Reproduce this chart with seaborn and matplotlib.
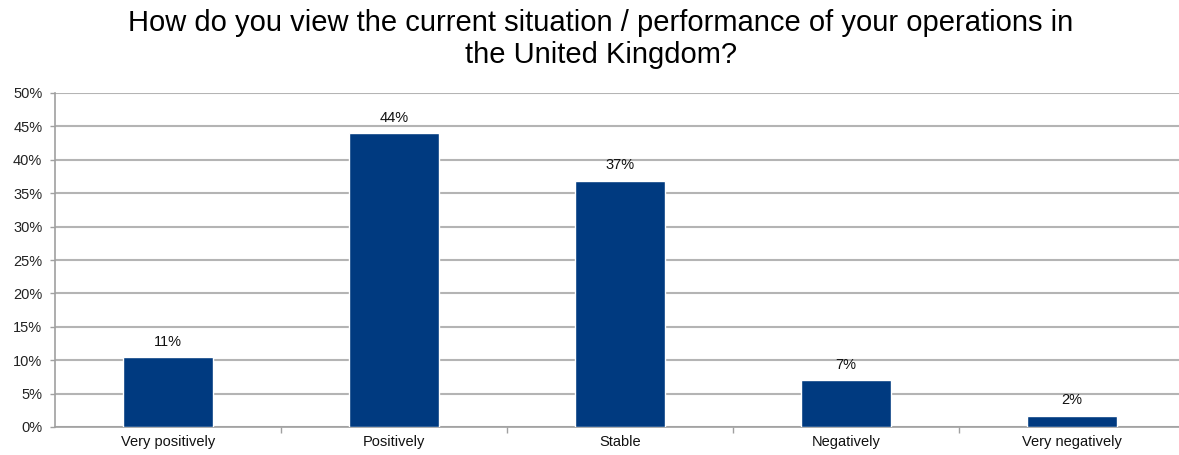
import matplotlib
matplotlib.use("Agg")
import matplotlib.pyplot as plt
import seaborn as sns
import pandas as pd
import numpy as np
from matplotlib.ticker import FixedLocator

categories = ["Very positively", "Positively", "Stable", "Negatively", "Very negatively"]
values = [10.5, 44.0, 36.9, 7.0, 1.7]
value_labels = ["11%", "44%", "37%", "7%", "2%"]
yticks = [0, 5, 10, 15, 20, 25, 30, 35, 40, 45, 50]
ytick_labels = ["0%", "5%", "10%", "15%", "20%", "25%", "30%", "35%", "40%", "45%", "50%"]
title = "How do you view the current situation / performance of your operations in\nthe United Kingdom?"

sns.set_theme(style="white")
plt.rcParams['font.family'] = ['Liberation Sans', 'DejaVu Sans']

W, H = 1179, 455
fig = plt.figure(figsize=(W / 100, H / 100), dpi=100)
ax = fig.add_axes([55 / W, 28 / H, 1130 / W, 334 / H])

df = pd.DataFrame({"category": categories, "value": values})
sns.barplot(data=df, x="category", y="value", color="#003a80", width=0.4,
            saturation=1, ax=ax, zorder=3)

ax.set_ylim(0, 50)
ax.set_xlim(-0.5, len(categories) - 0.5)
ax.set_yticks(yticks)
ax.set_yticklabels(ytick_labels, fontsize=10.5, color="#222222")
ax.yaxis.grid(True, color="#b4b4b4", linewidth=1.5, zorder=0)
ax.set_axisbelow(True)
ax.set_xlabel("")
ax.set_ylabel("")
ax.tick_params(axis="x", labelsize=10.5, length=0, pad=6, labelcolor="#111111")
ax.tick_params(axis="y", left=True, length=3.6, width=1, color="#a0a0a0", pad=5.5)
ax.xaxis.set_minor_locator(FixedLocator(np.arange(0.5, len(categories) - 0.5, 1)))
ax.tick_params(axis="x", which="minor", bottom=True, length=4, width=1, color="#a0a0a0")

for s in ["top", "right"]:
    ax.spines[s].set_visible(False)
for s in ["left", "bottom"]:
    ax.spines[s].set_color("#a0a0a0")
    ax.spines[s].set_linewidth(1.2)

for p, lab in zip(ax.patches, value_labels):
    ax.annotate(lab, (p.get_x() + p.get_width() / 2, p.get_height()),
                xytext=(0, 6), textcoords="offset points", ha="center", va="bottom",
                fontsize=10.5, color="#111111")

fig.text(601 / W, 1 - 9 / H, title, ha="center", va="top", fontsize=21,
         color="#000000", linespacing=1.2)

fig.savefig("out.png", dpi=100, facecolor="white")
